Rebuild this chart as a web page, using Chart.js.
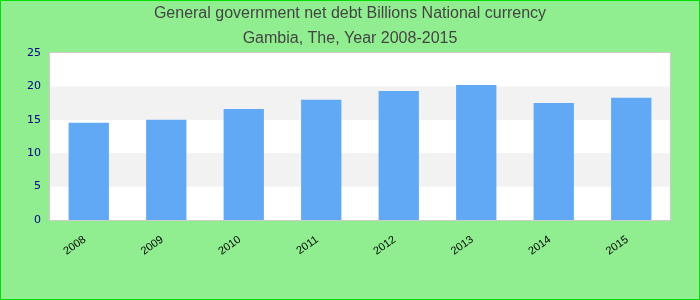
<!DOCTYPE html>
<html><head><meta charset="utf-8">
<script src="https://cdn.jsdelivr.net/npm/chart.js@4/dist/chart.umd.min.js"></script>
<style>html,body{margin:0;padding:0;background:#90ee90}#wrap{width:700px;height:300px;position:relative}</style>
</head><body><div id="wrap"><canvas id="c" width="700" height="300"></canvas></div>
<script>
const titleLines = ["General government net debt Billions National currency", "Gambia, The, Year 2008-2015"];
const categories = ["2008", "2009", "2010", "2011", "2012", "2013", "2014", "2015"];
const debtValues = [14.55, 15.0, 16.6, 18.0, 19.3, 20.2, 17.5, 18.3];
const yTicks = [0, 5, 10, 15, 20, 25];

const bgPlugin = {
  id: 'bg',
  beforeDraw(chart) {
    const ctx = chart.ctx, a = chart.chartArea, y = chart.scales.y;
    ctx.save();
    ctx.fillStyle = '#90ee90';
    ctx.fillRect(0, 0, chart.width, chart.height);
    ctx.fillStyle = '#ffffff';
    ctx.fillRect(a.left, a.top, a.right - a.left, a.bottom - a.top);
    ctx.fillStyle = '#f2f2f2';
    for (let i = 1; i < yTicks.length - 1; i += 2) {
      const y0 = y.getPixelForValue(yTicks[i]), y1 = y.getPixelForValue(yTicks[i + 1]);
      ctx.fillRect(a.left, y1, a.right - a.left, y0 - y1);
    }
    ctx.strokeStyle = '#cccccc';
    ctx.lineWidth = 1;
    ctx.strokeRect(a.left - 0.5, a.top - 0.5, a.right - a.left + 1, a.bottom - a.top + 1);
    ctx.strokeStyle = '#00e000';
    ctx.strokeRect(0.5, 0.5, chart.width - 1, chart.height - 1);
    ctx.restore();
  }
};

new Chart(document.getElementById('c'), {
  type: 'bar',
  data: {
    labels: categories,
    datasets: [{
      data: debtValues,
      backgroundColor: '#62a9f5',
      borderWidth: 0,
      barPercentage: 0.52,
      categoryPercentage: 1.0
    }]
  },
  options: {
    responsive: false,
    animation: false,
    devicePixelRatio: 1,
    layout: { padding: 0 },
    plugins: {
      legend: { display: false },
      tooltip: { enabled: false },
      title: {
        display: true,
        text: titleLines,
        color: '#444444',
        font: { family: 'Liberation Sans, Arial', size: 16, weight: 'normal', lineHeight: '25px' },
        padding: { top: 1, bottom: 2 }
      }
    },
    scales: {
      x: {
        grid: { display: false },
        border: { display: false },
        ticks: {
          color: '#000000',
          font: { family: 'Liberation Sans, Arial', size: 11 },
          minRotation: 35, maxRotation: 35,
          padding: 5,
          labelOffset: -4
        },
        afterFit(s) { s.height = 80; }
      },
      y: {
        min: 0, max: 25,
        grid: { display: false },
        border: { display: false },
        ticks: {
          stepSize: 5,
          color: '#00008b',
          font: { family: 'DejaVu Sans', size: 11 },
          padding: 1
        },
        afterFit(s) { s.width = 50; }
      },
      yRight: {
        position: 'right',
        min: 0, max: 25,
        grid: { display: false },
        border: { display: false },
        ticks: { display: false },
        afterFit(s) { s.width = 30; }
      }
    }
  },
  plugins: [bgPlugin]
});
</script></body></html>
